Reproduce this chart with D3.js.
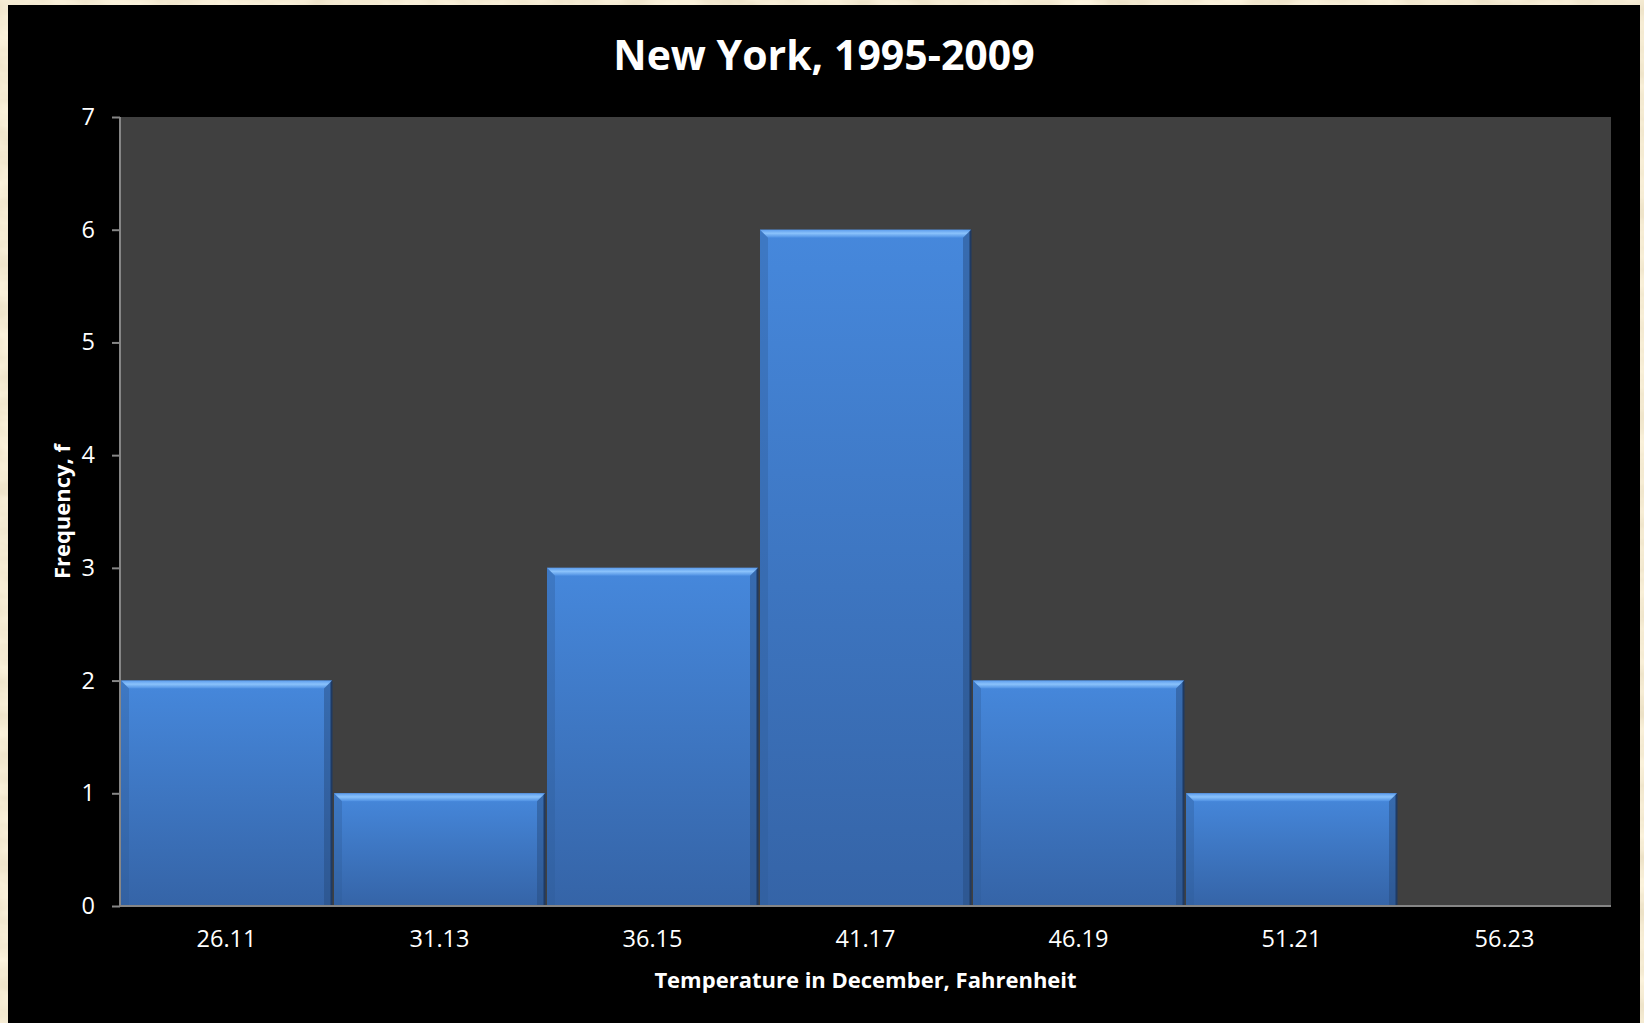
<!DOCTYPE html>
<html>
<head>
<meta charset="utf-8">
<script src="https://cdn.jsdelivr.net/npm/d3@7"></script>
<style>
  body { margin: 0; background: #eedbb2; }
  svg { display: block; }
  text { font-family: "Open Sans", Lato, sans-serif; fill: #fff; }
</style>
</head>
<body>
<div id="chart"></div>
<script>
var bins = ["26.11", "31.13", "36.15", "41.17", "46.19", "51.21", "56.23"];
var freq = [2, 1, 3, 6, 2, 1, 0];
var yTicks = [0, 1, 2, 3, 4, 5, 6, 7];

var W = 1644, H = 1023;
var margin = {top: 117, right: 33, bottom: 117, left: 120},
    width = W - margin.left - margin.right,
    height = H - margin.top - margin.bottom;

var svg = d3.select("#chart")
  .append("svg")
    .attr("width", W)
    .attr("height", H);

var defs = svg.append("defs");

// parchment texture
var f = defs.append("filter").attr("id", "paper")
  .attr("x", 0).attr("y", 0).attr("width", "100%").attr("height", "100%");
f.append("feTurbulence")
  .attr("type", "fractalNoise")
  .attr("baseFrequency", "0.02 0.04")
  .attr("numOctaves", 4)
  .attr("seed", 3);
f.append("feColorMatrix")
  .attr("type", "matrix")
  .attr("values", "0 0 0 0.22 0.80  0 0 0 0.24 0.71  0 0 0 0.26 0.52  0 0 0 0 1");

var bodyGrad = defs.append("linearGradient").attr("id", "barBody")
  .attr("x1", 0).attr("y1", 0).attr("x2", 0).attr("y2", 1);
bodyGrad.append("stop").attr("offset", "0%").attr("stop-color", "#4688dc");
bodyGrad.append("stop").attr("offset", "100%").attr("stop-color", "#3564a7");

var topGrad = defs.append("linearGradient").attr("id", "barTop")
  .attr("x1", 0).attr("y1", 0).attr("x2", 0).attr("y2", 1);
topGrad.append("stop").attr("offset", "0%").attr("stop-color", "#5d9ded");
topGrad.append("stop").attr("offset", "45%").attr("stop-color", "#8ac2fb");
topGrad.append("stop").attr("offset", "100%").attr("stop-color", "#4d8fe2");

svg.append("rect")
  .attr("width", W).attr("height", H)
  .attr("filter", "url(#paper)");

svg.append("rect")
  .attr("x", 8).attr("y", 5)
  .attr("width", 1632).attr("height", H - 5)
  .attr("fill", "#000");

var g = svg.append("g")
  .attr("transform", "translate(" + margin.left + "," + margin.top + ")");

g.append("rect")
  .attr("width", width).attr("height", height)
  .attr("fill", "#404040");

var x = d3.scaleBand()
  .domain(bins)
  .range([0, width])
  .padding(0);

var y = d3.scaleLinear()
  .domain([0, 7])
  .range([height, 0]);

// bars
var bv = 8;
var bar = g.selectAll(".bar")
  .data(bins.map(function(b, i) { return {bin: b, f: freq[i]}; }).filter(function(d) { return d.f > 0; }))
  .enter().append("g")
    .attr("class", "bar");

bar.append("rect")
  .attr("x", function(d) { return x(d.bin) + 1; })
  .attr("y", function(d) { return y(d.f); })
  .attr("width", x.bandwidth() - 2)
  .attr("height", function(d) { return height - y(d.f); })
  .attr("fill", "url(#barBody)");

// side shading
bar.append("rect")
  .attr("x", function(d) { return x(d.bin) + 1; })
  .attr("y", function(d) { return y(d.f); })
  .attr("width", bv)
  .attr("height", function(d) { return height - y(d.f); })
  .attr("fill", "#2f5d99").attr("opacity", 0.35);
bar.append("rect")
  .attr("x", function(d) { return x(d.bin) + x.bandwidth() - 1 - bv; })
  .attr("y", function(d) { return y(d.f); })
  .attr("width", bv)
  .attr("height", function(d) { return height - y(d.f); })
  .attr("fill", "#26497a").attr("opacity", 0.45);
bar.append("line")
  .attr("x1", function(d) { return x(d.bin) + x.bandwidth() - 1.5; })
  .attr("x2", function(d) { return x(d.bin) + x.bandwidth() - 1.5; })
  .attr("y1", function(d) { return y(d.f); })
  .attr("y2", height)
  .attr("stroke", "#1f3a63").attr("stroke-width", 2);

// top bevel
bar.append("path")
  .attr("d", function(d) {
    var x0 = x(d.bin) + 1, x1 = x(d.bin) + x.bandwidth() - 1, y0 = y(d.f);
    return "M" + x0 + "," + y0 + "L" + x1 + "," + y0 +
      "L" + (x1 - bv) + "," + (y0 + bv) + "L" + (x0 + bv) + "," + (y0 + bv) + "Z";
  })
  .attr("fill", "url(#barTop)");

// axes
var yAxis = g.append("g")
  .call(d3.axisLeft(y).tickValues(yTicks).tickSize(8).tickPadding(17).tickFormat(d3.format("d")));
yAxis.select(".domain").attr("stroke", "#868686").attr("stroke-width", 2).attr("d", "M0,0V" + height);
yAxis.selectAll(".tick line").attr("stroke", "#868686").attr("stroke-width", 2);
yAxis.selectAll(".tick text").attr("fill", "#fff").style("font-size", "23.5px").style("font-family", "'Open Sans', sans-serif");

var xAxis = g.append("g")
  .attr("transform", "translate(0," + height + ")")
  .call(d3.axisBottom(x).tickSize(0).tickPadding(24));
xAxis.select(".domain").attr("stroke", "#868686").attr("stroke-width", 2).attr("d", "M0,0H" + width);
xAxis.selectAll(".tick text").attr("fill", "#fff").style("font-size", "23.5px").style("font-family", "'Open Sans', sans-serif");

// titles
svg.append("text")
  .attr("x", 824).attr("y", 70)
  .attr("text-anchor", "middle")
  .style("font-size", "41px").style("font-weight", "bold")
  .text("New York, 1995-2009");

svg.append("text")
  .attr("x", margin.left + width / 2).attr("y", 988)
  .attr("text-anchor", "middle")
  .style("font-size", "22px").style("font-weight", "bold")
  .text("Temperature in December, Fahrenheit");

svg.append("text")
  .attr("transform", "translate(70," + (margin.top + height / 2) + ") rotate(-90)")
  .attr("text-anchor", "middle")
  .style("font-size", "22px").style("font-weight", "bold")
  .text("Frequency, f");
</script>
</body>
</html>
